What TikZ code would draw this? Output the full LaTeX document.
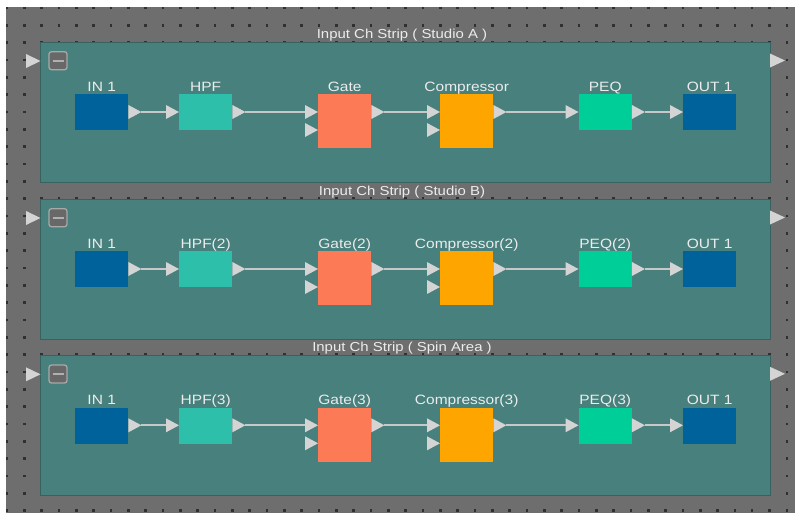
\documentclass[tikz,border=0pt]{standalone}
\usepackage{fontspec}
\setmainfont{Liberation Sans}
\newfontfamily\uifont[FakeStretch=1.15]{Liberation Sans}
\usetikzlibrary{calc}
\definecolor{bgc}{RGB}{110,110,110}
\definecolor{dotc}{RGB}{48,48,48}
\definecolor{panelc}{RGB}{71,128,124}
\definecolor{panelb}{RGB}{56,98,96}
\definecolor{portc}{RGB}{212,212,212}
\definecolor{wirec}{RGB}{200,200,200}
\definecolor{inc}{RGB}{0,98,154}
\definecolor{hpfc}{RGB}{46,191,170}
\definecolor{gatec}{RGB}{252,122,86}
\definecolor{compc}{RGB}{255,165,0}
\definecolor{peqc}{RGB}{0,206,152}
\definecolor{labc}{RGB}{236,236,236}
\definecolor{btnc}{RGB}{104,104,104}
\definecolor{btnb}{RGB}{168,168,168}
\definecolor{btnd}{RGB}{176,176,176}
\tikzset{
  blk/.style={draw=none, inner sep=0pt, minimum width=53pt, minimum height=36pt, anchor=north west},
  tallblk/.style={blk, minimum height=54pt},
  lbl/.style={text=labc, font=\uifont\fontsize{13.5}{14}\selectfont, anchor=base, inner sep=0pt},
  ttl/.style={text=labc, font=\uifont\fontsize{13}{14}\selectfont, anchor=base, inner sep=0pt},
  wire/.style={draw=wirec, line width=2.2pt},
  panel/.style={fill=panelc, draw=panelb, line width=1pt, inner sep=0pt, anchor=north west,
                minimum width=730pt, minimum height=140pt},
  btn/.style={draw=btnb, fill=btnc, rounded corners=2.5pt, line width=1.3pt, minimum size=18pt, inner sep=0pt},
}
% output port on the right side of a block: #1 node, #2 name of tip coordinate
\newcommand\myoport[2]{%
  \fill[portc] ($(#1.north east)+(0,11)$) -- ($(#1.north east)+(13,18)$) -- ($(#1.north east)+(0,25)$) -- cycle;
  \coordinate (#2) at ($(#1.north east)+(13,18)$);}
% input port on the left side of a block: #1 node, #2 offset from top, #3 name of base coordinate
\newcommand\myiport[3]{%
  \fill[portc] ($(#1.north west)+(0,#2)$) -- ($(#1.north west)+(-13,#2-7)$) -- ($(#1.north west)+(-13,#2+7)$) -- cycle;
  \coordinate (#3) at ($(#1.north west)+(-13,#2)$);}
\begin{document}
\begin{tikzpicture}[x=1pt,y=-1pt]
\useasboundingbox (0,0) rectangle (795,515);
\fill[white] (0,0) rectangle (795,515);
\fill[bgc] (6,7) rectangle (795,513);
\foreach \i in {0,...,45}{
  \foreach \j in {0,...,29}{
    \fill[dotc] (7+17.33*\i-1.3, 8+17.33*\j-1.3) rectangle ++(2.6,2.6);
  }
}
\foreach \k/\oy/\ttext/\sfx in {1/0/{Input Ch Strip ( Studio A )}/{},
                                 2/157/{Input Ch Strip ( Studio B)}/{(2)},
                                 3/313.3/{Input Ch Strip ( Spin Area )}/{(3)}}{
  % panel
  \node[panel] (strip\k) at (40,41.7+\oy) {};
  \node[ttl] (title\k) at (402,38+\oy) {\ttext};
  % collapse button
  \node[btn] (btn\k) at (58,60.7+\oy) {};
  \draw[btnd, line width=2pt] ($(btn\k.center)+(-5.5,0)$) -- ($(btn\k.center)+(5.5,0)$);
  % strip ports
  \fill[portc] (26,54+\oy) -- (40.5,61+\oy) -- (26,68+\oy) -- cycle;
  \fill[portc] (770,53.5+\oy) -- (785,60.5+\oy) -- (770,67.5+\oy) -- cycle;
  % blocks
  \node[blk, fill=inc] (in\k) at (75,94+\oy) {};
  \node[blk, fill=hpfc] (hpf\k) at (179,94+\oy) {};
  \node[tallblk, fill=gatec] (gate\k) at (318,94+\oy) {};
  \node[tallblk, fill=compc] (comp\k) at (440,94+\oy) {};
  \node[blk, fill=peqc] (peq\k) at (578.5,94+\oy) {};
  \node[blk, fill=inc] (out\k) at (683,94+\oy) {};
  % labels
  \node[lbl] (inl\k) at ($(in\k.north)+(0,-3)$) {IN 1};
  \node[lbl] (hpfl\k) at ($(hpf\k.north)+(0,-3)$) {HPF\sfx};
  \node[lbl] (gatel\k) at ($(gate\k.north)+(0,-3)$) {Gate\sfx};
  \node[lbl] (compl\k) at ($(comp\k.north)+(0,-3)$) {Compressor\sfx};
  \node[lbl] (peql\k) at ($(peq\k.north)+(0,-3)$) {PEQ\sfx};
  \node[lbl] (outl\k) at ($(out\k.north)+(0,-3)$) {OUT 1};
  % ports
  \myoport{in\k}{in\k-o}
  \myoport{hpf\k}{hpf\k-o}
  \myoport{gate\k}{gate\k-o}
  \myoport{comp\k}{comp\k-o}
  \myoport{peq\k}{peq\k-o}
  \myiport{hpf\k}{18}{hpf\k-i}
  \myiport{gate\k}{18}{gate\k-i}
  \myiport{gate\k}{36}{gate\k-i2}
  \myiport{comp\k}{18}{comp\k-i}
  \myiport{comp\k}{36}{comp\k-i2}
  \myiport{peq\k}{18}{peq\k-i}
  \myiport{out\k}{18}{out\k-i}
  % connectors
  \draw[wire] (in\k-o) -- (hpf\k-i);
  \draw[wire] (hpf\k-o) -- (gate\k-i);
  \draw[wire] (gate\k-o) -- (comp\k-i);
  \draw[wire] (comp\k-o) -- (peq\k-i);
  \draw[wire] (peq\k-o) -- (out\k-i);
}
\end{tikzpicture}
\end{document}
